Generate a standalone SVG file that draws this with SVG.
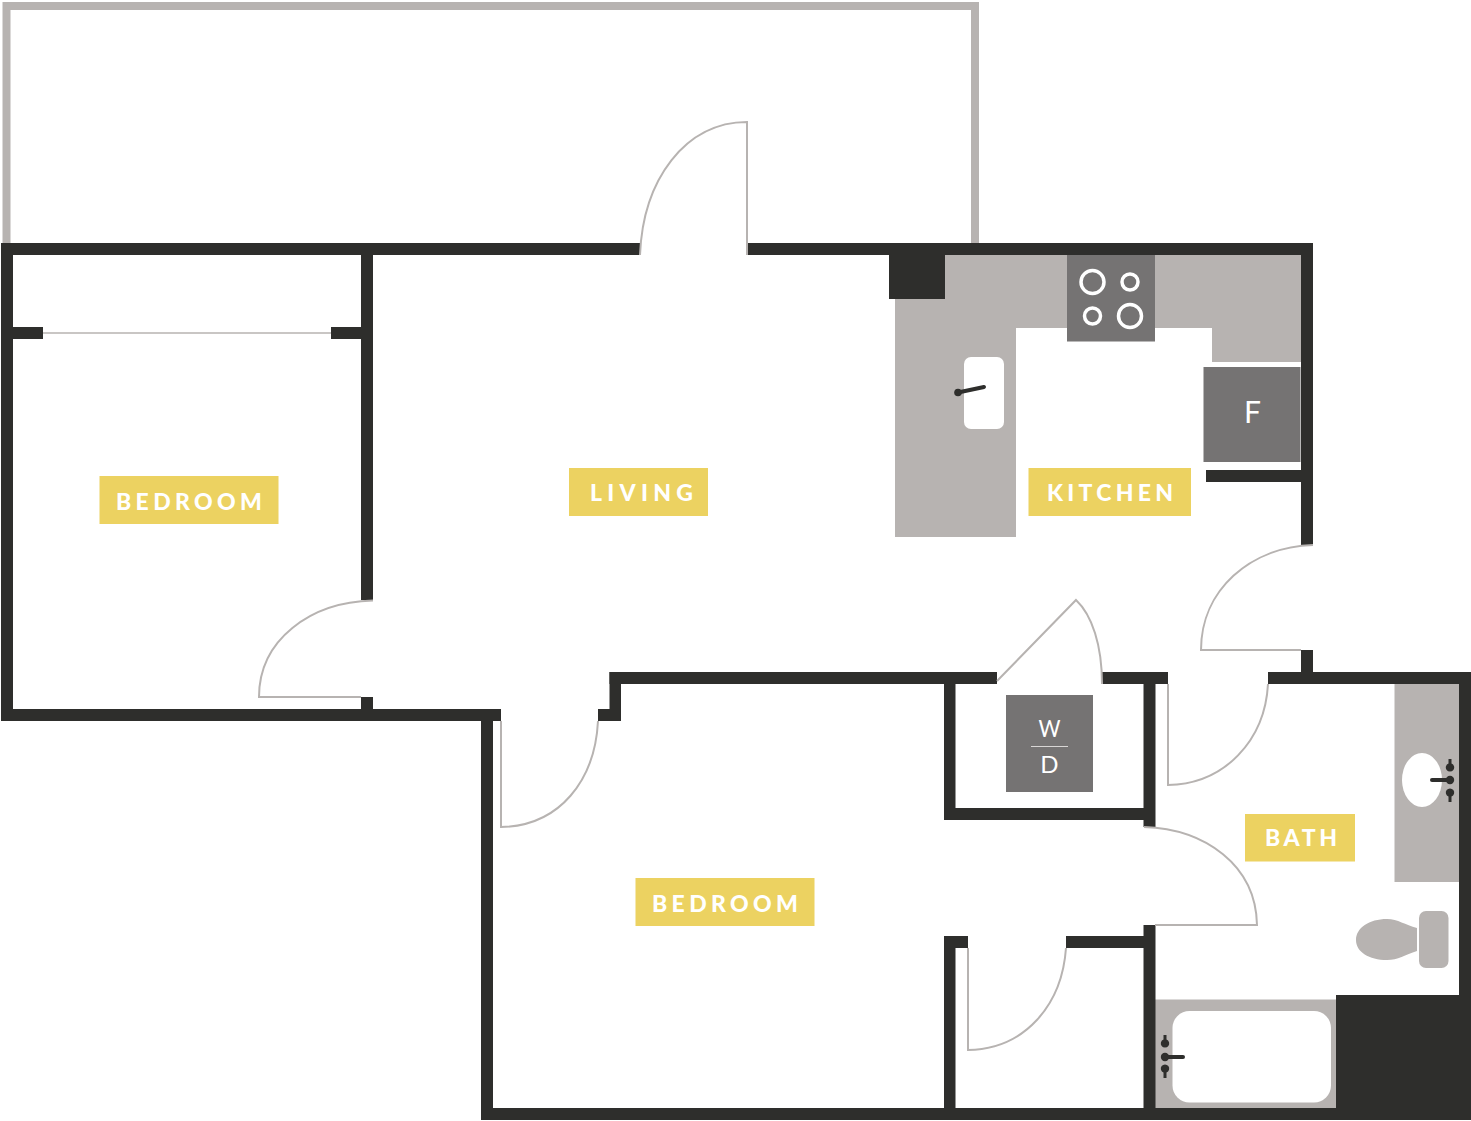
<svg xmlns="http://www.w3.org/2000/svg" width="1471" height="1121" viewBox="0 0 1471 1121">
<style>
.wall{fill:#2e2e2c}
.counter{fill:#b7b3b1}
.appliance{fill:#757373}
.hole{fill:#fff}
.door{fill:none;stroke:#b7b3b1;stroke-width:2}
.tag{fill:#ecd261}
.label{font-family:"Lato","Liberation Sans",sans-serif;font-weight:900;font-size:23px;fill:#fff}
.small{font-family:"Lato","Liberation Sans",sans-serif;font-weight:400;font-size:24px;fill:#fff;text-anchor:middle}
.burner{fill:none;stroke:#fff;stroke-width:3.5}
.tap{stroke:#2e2e2c;stroke-width:4;stroke-linecap:round;fill:none}
</style>
<rect width="1471" height="1121" fill="#fff"/>
<path id="balcony" d="M6.500 243V6H975V243" fill="none" stroke="#b7b3b1" stroke-width="8"/>
<g id="fixtures">
<path class="counter" d="M895 299H889V255H1301V362H1212V328H1016V537H895Z"/>
<rect class="hole" x="964" y="357" width="40" height="72" rx="7"/>
<line class="tap" x1="958" y1="392.500" x2="984" y2="387"/>
<circle cx="958" cy="392.500" r="3.800" class="wall"/>
<rect class="appliance" x="1067" y="255" width="88" height="86.500"/>
<circle class="burner" cx="1092.500" cy="282" r="11.500"/>
<circle class="burner" cx="1130" cy="282" r="8"/>
<circle class="burner" cx="1092.500" cy="316" r="8"/>
<circle class="burner" cx="1130" cy="316" r="11.500"/>
<rect class="appliance" x="1203.500" y="367" width="97" height="95"/>
<text class="small" x="1252.500" y="423" style="font-size:30px">F</text>
<rect class="appliance" x="1006" y="695" width="87" height="97"/>
<text class="small" x="1049.500" y="737" textLength="22" lengthAdjust="spacingAndGlyphs">W</text>
<line x1="1031" y1="746.500" x2="1068" y2="746.500" stroke="#d8d6d5" stroke-width="1"/>
<text class="small" x="1049.500" y="772.500">D</text>
<rect class="counter" x="1394.500" y="684" width="65" height="198"/>
<ellipse class="hole" cx="1422" cy="780" rx="20" ry="27"/>
<line class="tap" x1="1432" y1="780" x2="1450" y2="780"/>
<circle class="wall" cx="1450" cy="780" r="4.200"/>
<path class="wall" d="M1448.500 759h3v4.500a4.200 4.200 0 1 1-3 0z"/>
<path class="wall" d="M1448.500 802h3v-5.500a4.200 4.200 0 1 0-3 0z"/>
<rect class="counter" x="1419" y="911" width="29.500" height="57" rx="7"/>
<path class="counter" d="M1417 928C1405 925 1398 919 1387 919C1369 919 1356 928 1356 940C1356 952 1369 960 1387 960C1398 960 1405 955 1417 951Z"/>
<rect class="counter" x="1155" y="999.500" width="181" height="108.500"/>
<rect class="hole" x="1172.500" y="1011" width="158.500" height="91.500" rx="17"/>
<line class="tap" x1="1165" y1="1057" x2="1183" y2="1057"/>
<circle class="wall" cx="1165" cy="1057" r="4.200"/>
<path class="wall" d="M1163.500 1035h3v4.500a4.200 4.200 0 1 1-3 0z"/>
<path class="wall" d="M1163.500 1078h3v-5.500a4.200 4.200 0 1 0-3 0z"/>
</g>
<g id="walls">
<rect class="wall" x="1" y="243" width="639" height="12"/>
<rect class="wall" x="747" y="243" width="566" height="12"/>
<rect class="wall" x="1" y="243" width="12" height="478"/>
<rect class="wall" x="1" y="709" width="500" height="12"/>
<rect class="wall" x="361" y="255" width="12" height="345"/>
<rect class="wall" x="361" y="697" width="12" height="12"/>
<rect class="wall" x="13" y="327" width="30" height="12"/>
<rect class="wall" x="331" y="327" width="30" height="12"/>
<rect class="wall" x="889" y="255" width="56" height="44"/>
<rect class="wall" x="1301" y="243" width="12" height="302"/>
<rect class="wall" x="1301" y="650" width="12" height="34"/>
<rect class="wall" x="1206" y="470" width="95" height="12"/>
<rect class="wall" x="481" y="709" width="12" height="411"/>
<rect class="wall" x="598" y="709" width="23" height="12"/>
<rect class="wall" x="609.500" y="672" width="11.500" height="49"/>
<rect class="wall" x="609.500" y="672" width="387.500" height="12"/>
<rect class="wall" x="1102" y="672" width="66" height="12"/>
<rect class="wall" x="1268" y="672" width="203" height="12"/>
<rect class="wall" x="1459" y="672" width="12" height="448"/>
<rect class="wall" x="481" y="1108" width="990" height="12"/>
<rect class="wall" x="1336" y="995" width="135" height="125"/>
<rect class="wall" x="944" y="684" width="11.500" height="136"/>
<rect class="wall" x="944" y="808" width="200" height="12"/>
<rect class="wall" x="1143.500" y="684" width="12" height="143"/>
<rect class="wall" x="944" y="936" width="11.500" height="172"/>
<rect class="wall" x="944" y="936" width="24" height="12"/>
<rect class="wall" x="1066" y="936" width="78" height="12"/>
<rect class="wall" x="1143.500" y="925" width="12" height="183"/>
</g>
<g id="connectors">
<line x1="43" y1="333" x2="331" y2="333" stroke="#b7b3b1" stroke-width="1.500"/>
<path class="door" d="M640 255C643 180 685 122 747 122V255"/>
<path class="door" d="M373 600.500C310 602 259 640 259 697H361"/>
<path class="door" d="M501 721V827C560 826 595 780 598 721"/>
<path class="door" d="M997 681L1076 600C1092 615 1102 645 1102 684"/>
<path class="door" d="M1313 545C1250 547 1201 590 1201 650H1301"/>
<path class="door" d="M1168 684V785C1225 784 1265 740 1268 684"/>
<path class="door" d="M1144 827C1205 829 1256 865 1257 925H1155"/>
<path class="door" d="M968 948V1050C1025 1049 1062 1005 1066 948"/>
</g>
<g id="label-bedroom-1"><rect class="tag" x="99.500" y="476" width="179" height="48"/><text class="label" x="116" y="509.500" textLength="146">BEDROOM</text></g>
<g id="label-living"><rect class="tag" x="569" y="468" width="139" height="48"/><text class="label" x="590" y="500.500" textLength="103">LIVING</text></g>
<g id="label-kitchen"><rect class="tag" x="1028.500" y="468" width="162.500" height="48"/><text class="label" x="1047" y="501" textLength="126">KITCHEN</text></g>
<g id="label-bedroom-2"><rect class="tag" x="635.500" y="878" width="179" height="48"/><text class="label" x="652" y="911.500" textLength="146">BEDROOM</text></g>
<g id="label-bath"><rect class="tag" x="1245" y="814" width="110" height="47.500"/><text class="label" x="1265" y="845.500" textLength="72">BATH</text></g>
</svg>
